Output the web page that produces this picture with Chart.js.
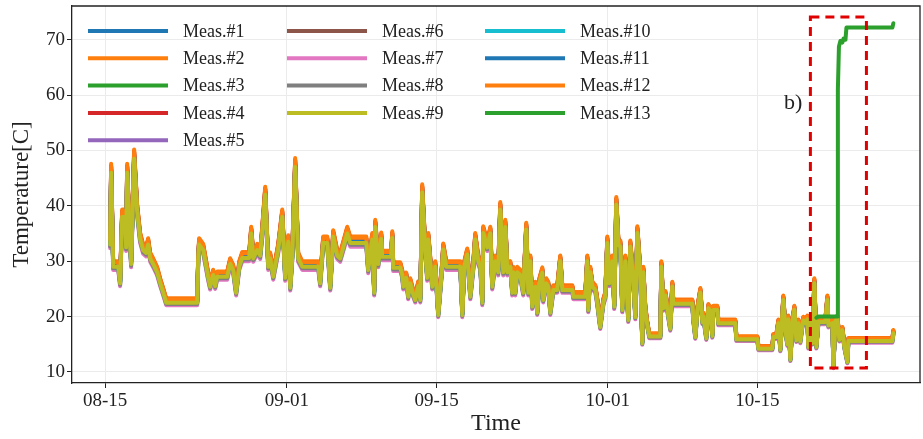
<!DOCTYPE html>
<html>
<head>
<meta charset="utf-8">
<script src="https://cdn.jsdelivr.net/npm/chart.js@4.4.1/dist/chart.umd.min.js"></script>
<style>
  html, body { margin: 0; padding: 0; background: #fff; }
</style>
</head>
<body>
<canvas id="chart" width="923" height="439"></canvas>
<script>
// x values are days counted from 08-01 (so 08-15 = 14)
const tickDays = [14, 31, 45, 61, 75];
const tickLabels = ['08-15', '09-01', '09-15', '10-01', '10-15'];
const yTicks = [10, 20, 30, 40, 50, 60, 70];

const seriesNames = ['Meas.#1', 'Meas.#2', 'Meas.#3', 'Meas.#4', 'Meas.#5', 'Meas.#6', 'Meas.#7',
  'Meas.#8', 'Meas.#9', 'Meas.#10', 'Meas.#11', 'Meas.#12', 'Meas.#13'];
const seriesColors = ['#1f77b4', '#ff7f0e', '#2ca02c', '#d62728', '#9467bd', '#8c564b', '#e377c2',
  '#7f7f7f', '#bcbd22', '#17becf', '#1f77b4', '#ff7f0e', '#2ca02c'];

// Meas.#9 (the top trace)
const times = [14.47, 14.56, 14.75, 15.22, 15.40, 15.59, 15.87, 15.96, 16.06, 16.25, 16.43, 16.71, 16.99,
  17.27, 17.55, 17.84, 18.02, 18.21, 18.49, 18.86, 19.15, 19.43, 19.71, 22.61, 22.70, 22.79, 23.17, 23.64,
  23.82, 24.10, 24.29, 24.48, 25.41, 25.69, 25.97, 26.25, 26.54, 26.82, 27.47, 27.66, 27.85, 28.22, 28.50,
  28.69, 28.97, 29.25, 29.43, 29.72, 30.18, 30.56, 30.84, 31.12, 31.31, 31.49, 31.77, 32.05, 32.43, 33.93,
  34.11, 34.39, 34.77, 35.05, 35.33, 35.70, 35.98, 36.64, 36.92, 38.42, 38.60, 38.98, 39.16, 39.26, 39.54,
  39.82, 39.91, 40.75, 40.85, 40.94, 41.60, 41.78, 41.88, 42.16, 42.34, 42.53, 42.81, 43.00, 43.28, 43.47,
  43.65, 43.94, 44.12, 44.22, 44.59, 44.78, 44.87, 45.15, 45.52, 45.62, 45.90, 47.21, 47.40, 47.58, 47.86,
  48.15, 48.43, 48.61, 48.89, 49.08, 49.27, 49.36, 49.73, 50.02, 50.20, 50.48, 50.76, 50.95, 51.23, 51.42,
  51.61, 51.89, 52.07, 52.17, 52.35, 52.54, 52.82, 53.10, 53.38, 53.57, 53.76, 53.94, 54.23, 54.41, 54.60,
  54.88, 54.97, 55.25, 55.44, 55.63, 55.91, 56.28, 56.56, 56.75, 57.69, 57.78, 58.90, 59.09, 59.18, 59.37,
  59.56, 59.84, 60.02, 60.30, 60.59, 60.77, 60.96, 61.15, 61.43, 61.61, 61.80, 61.99, 62.18, 62.36, 62.64,
  62.92, 63.11, 63.39, 63.58, 63.77, 64.05, 64.23, 64.33, 64.51, 64.70, 64.89, 65.92, 66.01, 66.20, 66.39,
  66.67, 66.85, 67.04, 67.13, 68.91, 69.00, 69.19, 69.38, 69.66, 69.85, 69.94, 70.22, 70.41, 70.59, 70.78,
  70.87, 71.25, 71.34, 72.93, 73.03, 74.99, 75.09, 76.39, 76.49, 76.77, 76.96, 77.14, 77.42, 77.61, 77.80,
  77.89, 78.08, 78.27, 78.45, 78.64, 78.83, 79.01, 79.20, 79.29, 79.48, 79.67, 79.76, 79.95, 80.14, 80.32,
  80.51, 80.70, 81.35, 81.54, 81.63, 82.01, 82.10, 82.29, 82.47, 82.66, 82.94, 83.13, 83.41, 83.50, 87.62,
  87.71];
const meas9 = [33, 46, 29, 29, 26, 38, 38, 32.5, 46, 36, 29.5, 48.5, 39,
  34, 32, 31.5, 33, 30.5, 29.5, 28, 26, 24.3, 22.5, 22.5, 30, 33, 32, 27,
  25.4, 27.5, 25.5, 27.2, 27.2, 29.5, 28.4, 24.3, 29, 30.6, 30.6, 35, 30.5, 32, 31,
  35, 42, 29, 30.5, 27.2, 32, 38, 27, 33.5, 25.2, 30.5, 47, 30.5, 29, 29,
  26, 33.3, 33.3, 25.2, 34.4, 31, 30.5, 35, 33.3, 33.3, 28.4, 33.9, 24.3, 36.2, 29.5,
  34, 30.8, 30.8, 34.2, 28.8, 28.8, 27.5, 25.4, 27, 23.6, 26, 24, 23, 25.5, 23,
  42.4, 31.5, 27, 33.9, 25.4, 27.5, 29, 20.3, 29, 32.1, 29, 29, 20.3, 29, 31.2,
  23.6, 29, 33.9, 30, 29, 22.5, 35.1, 32.5, 35, 25.4, 30, 28, 39.3, 28, 36.2,
  28, 29, 24.3, 28, 24.3, 28, 27.5, 24.3, 35.7, 24.3, 30, 21.8, 25.4, 20.7, 26,
  27.9, 23, 26, 25.4, 20.7, 24.8, 24.8, 30, 24.8, 24.8, 23.6, 23.6, 30, 21.2, 28,
  25.4, 24.8, 22.5, 18.1, 22.5, 23.6, 33.3, 26, 30, 21.8, 40.2, 33, 32.6, 21.2, 30,
  19.4, 32.6, 26.5, 19.9, 35.1, 27.5, 15.2, 28, 21.2, 18.4, 16.4, 16.4, 29, 21.5, 23.8,
  20, 17.8, 25.4, 22.3, 22.3, 19.5, 16.3, 21, 24.3, 19, 20, 16.1, 21.5, 21, 16.5,
  21.2, 21.2, 18.8, 18.8, 15.9, 15.9, 14.2, 14.2, 16.3, 16.3, 18.8, 14, 23, 17.5, 15,
  19.5, 12.2, 18.8, 21.2, 15.7, 18.8, 15.5, 18.4, 19.3, 18.8, 19.5, 14.5, 19.3, 15.2, 26,
  14.5, 19, 19, 23, 18.4, 18.8, 10.9, 19.2, 19.5, 15.8, 17.5, 14.5, 11.8, 15.6, 15.6,
  17];

// how far each trace sits from Meas.#9 (ratio read at the tallest peaks)
const ratios = [1.012, 1.035, 1.0, 1.025, 1.022, 1.015, 0.98, 0.99, 1.0, 1.005, 1.008, 1.028];

// Meas.#13, the one that climbs inside the b) box
const times13 = [80.51, 80.70, 82.47, 82.52, 82.62, 82.76, 82.94, 83.04, 83.23, 83.32, 87.62, 87.71];
const meas13 = [19.8, 20, 20, 61, 68.8, 69.8, 69.5, 70.2, 70, 72.2, 72.2, 73];

// dashed box and its label, in data units
const boxDays = [79.95, 85.19];
const boxTemps = [10.7, 74.1];
const boxLabel = { text: 'b)', day: 79.2, temp: 58.5 };

const serif = "'Liberation Serif', 'DejaVu Serif', serif";

const datasets = [];
for (let i = 0; i < 12; i++) {
  datasets.push({
    label: seriesNames[i],
    data: times.map((t, k) => ({ x: t, y: +(meas9[k] * ratios[i]).toFixed(2) })),
    borderColor: seriesColors[i],
    order: i === 8 ? 2 : 100 - i
  });
}
datasets.push({
  label: seriesNames[12],
  data: times13.map((t, k) => ({ x: t, y: meas13[k] })),
  borderColor: seriesColors[12],
  order: 1
});

const extras = {
  id: 'extras',
  afterDraw(chart) {
    const ctx = chart.ctx;
    const a = chart.chartArea;
    const xs = chart.scales.x, ys = chart.scales.y;
    ctx.save();

    // top and right spines
    ctx.strokeStyle = '#222';
    ctx.lineWidth = 1.3;
    ctx.beginPath();
    ctx.moveTo(a.left, a.top);
    ctx.lineTo(a.right, a.top);
    ctx.lineTo(a.right, a.bottom);
    ctx.stroke();

    // red dashed box
    const x0 = xs.getPixelForValue(boxDays[0]), x1 = xs.getPixelForValue(boxDays[1]);
    const y0 = ys.getPixelForValue(boxTemps[1]), y1 = ys.getPixelForValue(boxTemps[0]);
    ctx.strokeStyle = '#e00000';
    ctx.lineWidth = 3;
    ctx.setLineDash([9, 6]);
    ctx.strokeRect(x0, y0, x1 - x0, y1 - y0);
    ctx.setLineDash([]);

    ctx.fillStyle = '#222';
    ctx.font = '22px ' + serif;
    ctx.textAlign = 'right';
    ctx.textBaseline = 'middle';
    ctx.fillText(boxLabel.text, xs.getPixelForValue(boxLabel.day), ys.getPixelForValue(boxLabel.temp));

    // legend, matplotlib style: 3 columns filled top to bottom
    const cols = [[0, 1, 2, 3, 4], [5, 6, 7, 8], [9, 10, 11, 12]];
    const colX = [88, 287, 485];
    ctx.font = '18px ' + serif;
    ctx.textAlign = 'left';
    ctx.lineWidth = 4;
    cols.forEach((col, c) => {
      col.forEach((idx, r) => {
        const y = 31 + r * 27.3;
        ctx.strokeStyle = seriesColors[idx];
        ctx.beginPath();
        ctx.moveTo(colX[c], y);
        ctx.lineTo(colX[c] + 80, y);
        ctx.stroke();
        ctx.fillStyle = '#222';
        ctx.fillText(seriesNames[idx], colX[c] + 95, y + 1);
      });
    });
    ctx.restore();
  }
};

new Chart(document.getElementById('chart'), {
  type: 'line',
  data: { datasets },
  options: {
    responsive: false,
    animation: false,
    devicePixelRatio: 1,
    layout: { padding: { left: 0, top: 6, right: 3, bottom: 0 } },
    elements: {
      point: { radius: 0 },
      line: { borderWidth: 4, tension: 0, borderJoinStyle: 'round', borderCapStyle: 'round', fill: false }
    },
    plugins: { legend: { display: false }, tooltip: { enabled: false } },
    scales: {
      x: {
        type: 'linear',
        min: 10.9,
        max: 90.2,
        afterBuildTicks: s => { s.ticks = tickDays.map(v => ({ value: v })); },
        afterFit: s => { s.height = 56; s.paddingLeft = 0; s.paddingRight = 0; },
        ticks: {
          color: '#222',
          font: { family: serif, size: 19 },
          padding: 2,
          maxRotation: 0,
          callback: v => tickLabels[tickDays.indexOf(v)]
        },
        grid: { color: '#ebebeb', lineWidth: 1, tickLength: 5, tickColor: '#222' },
        border: { color: '#222', width: 1.3 },
        title: { display: true, text: 'Time', color: '#222', font: { family: serif, size: 24 }, padding: { top: 0, bottom: 1 } }
      },
      y: {
        min: 8.0,
        max: 76.1,
        afterBuildTicks: s => { s.ticks = yTicks.map(v => ({ value: v })); },
        afterFit: s => { s.width = 72; s.paddingTop = 0; s.paddingBottom = 0; },
        ticks: { color: '#222', font: { family: serif, size: 19 }, padding: 2 },
        grid: { color: '#ebebeb', lineWidth: 1, tickLength: 5, tickColor: '#222' },
        border: { color: '#222', width: 1.3 },
        title: { display: true, text: 'Temperature[C]', color: '#222', font: { family: serif, size: 23 }, padding: { top: 8, bottom: 0 } }
      }
    }
  },
  plugins: [extras]
});
</script>
</body>
</html>
